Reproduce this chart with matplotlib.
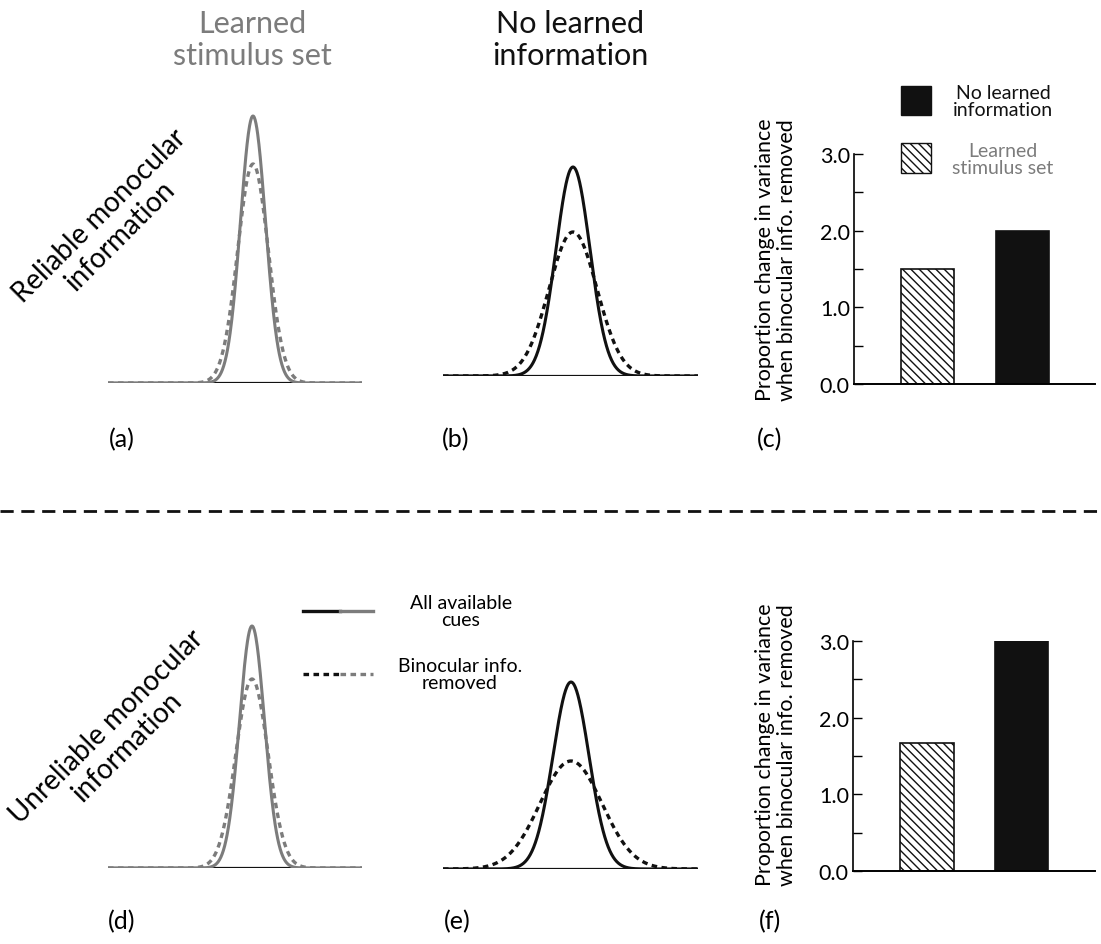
import numpy as np
import matplotlib.pyplot as plt
from matplotlib.lines import Line2D
from matplotlib.patches import Rectangle

plt.rcParams['font.family'] = ['Lato', 'DejaVu Sans']
plt.rcParams['lines.scale_dashes'] = False
plt.rcParams['hatch.linewidth'] = 1.0

# variance change when binocular info removed
bar_groups = ['Learned stimulus set', 'No learned information']
reliable_change = [1.5, 2.0]
unreliable_change = [1.67, 3.0]
yticks = [0.0, 1.0, 2.0, 3.0]

# schematic distributions (a), (b), (d), (e): peak heights and spreads
curve_panels = ['(a)', '(b)', '(d)', '(e)']
solid_peak = [2.67, 2.09, 2.42, 1.87]
dashed_peak = [2.19, 1.44, 1.89, 1.08]
solid_sd = [1.25, 1.7, 1.25, 1.8]
dashed_sd = [1.53, 2.4, 1.61, 3.1]

GRAY = '#7c7c7c'
BLACK = '#111111'
W, H = 1101, 945

fig = plt.figure(figsize=(W / 100, H / 100), dpi=100)


def box(x0, y_bottom, x1, y_top):
    return [x0 / W, 1 - y_bottom / H, (x1 - x0) / W, (y_bottom - y_top) / H]


def ftext(x, y, s, **kw):
    fig.text(x / W, 1 - y / H, s, **kw)


# ---- gaussian panels ----
# (left px, right px, baseline px, peak x px)
curve_boxes = [(108, 362, 384, 253), (443, 698, 377, 573),
               (108, 362, 869, 252), (443, 698, 870, 571)]
curve_colors = [GRAY, BLACK, GRAY, BLACK]

for i, (x0, x1, yb, xc) in enumerate(curve_boxes):
    ax = fig.add_axes(box(x0, yb, x1, yb - 300))
    lo, hi = (x0 - xc) / 10, (x1 - xc) / 10
    x = np.linspace(lo, hi, 600)
    solid = solid_peak[i] * np.exp(-0.5 * (x / solid_sd[i]) ** 2)
    dashed = dashed_peak[i] * np.exp(-0.5 * (x / dashed_sd[i]) ** 2)
    ax.plot(x, dashed, color=curve_colors[i], lw=2.4, dashes=(4, 3.2), zorder=3)
    ax.plot(x, solid, color=curve_colors[i], lw=2.2, zorder=4)
    ax.axhline(0, color=BLACK, lw=1.6, zorder=2)
    ax.set_xlim(lo, hi)
    ax.set_ylim(0, 3)
    ax.axis('off')

# ---- bar panels ----
bar_boxes = [(854, 1095, 385, 155), (853, 1095, 872, 642)]
ylabel_y = [260, 745]
for (x0, x1, yb, yt), vals, ly in zip(bar_boxes, [reliable_change, unreliable_change], ylabel_y):
    ax = fig.add_axes(box(x0, yb, x1, yt))
    ax.bar([0], [vals[0]], width=0.56, color='white', edgecolor=BLACK,
           hatch='\\\\\\\\', lw=1.2)
    ax.bar([1], [vals[1]], width=0.56, color=BLACK, edgecolor=BLACK, lw=1.2)
    ax.set_xlim(-0.78, 1.77)
    ax.set_ylim(0, 3)
    ax.set_xticks([])
    ax.set_yticks(yticks)
    ax.set_yticklabels(['%.1f' % v for v in yticks])
    ax.set_yticks([0.5, 1.5, 2.5], minor=True)
    ax.tick_params(axis='y', which='both', direction='in', length=6.5,
                   width=1.0, pad=3, labelsize=15.5)
    for s in ['top', 'right']:
        ax.spines[s].set_visible(False)
    ax.spines['left'].set_linewidth(1.2)
    ax.spines['bottom'].set_linewidth(1.4)
    ftext(776, ly, 'Proportion change in variance\nwhen binocular info. removed',
          fontsize=15.5, rotation=90, ha='center', va='center', linespacing=1.1)

# bar legend (top right)
fig.patches.append(Rectangle((901 / W, 1 - 116 / H), 30 / W, 29 / H,
                             transform=fig.transFigure, facecolor=BLACK,
                             edgecolor=BLACK, lw=1))
fig.patches.append(Rectangle((901 / W, 1 - 174 / H), 30 / W, 30 / H,
                             transform=fig.transFigure, facecolor='white',
                             edgecolor=BLACK, lw=1, hatch='\\\\\\\\'))
ftext(1003, 102, 'No learned\ninformation', fontsize=14, ha='center',
      va='center', linespacing=1.0, color=BLACK)
ftext(1003, 160, 'Learned\nstimulus set', fontsize=14, ha='center',
      va='center', linespacing=1.0, color=GRAY)

# line legend (bottom middle)
for y, dash in [(612, None), (675, (4, 3.2))]:
    for xa, xb, c in [(303, 340, BLACK), (340, 373, GRAY)]:
        ln = Line2D([xa / W, xb / W], [1 - y / H, 1 - y / H], color=c, lw=2.4,
                    transform=fig.transFigure)
        if dash:
            ln.set_dashes(dash)
        fig.add_artist(ln)
ftext(461, 612, 'All available\ncues', fontsize=14, ha='center', va='center',
      linespacing=1.05)
ftext(460, 675, 'Binocular info.\nremoved', fontsize=14, ha='center',
      va='center', linespacing=1.05)

# column headings
ftext(252, 40, 'Learned\nstimulus set', fontsize=22, ha='center', va='center',
      color=GRAY, linespacing=1.15)
ftext(570, 40, 'No learned\ninformation', fontsize=22, ha='center', va='center',
      color=BLACK, linespacing=1.15)

# row labels
ftext(110, 226, 'Reliable monocular\ninformation', fontsize=20, rotation=45,
      rotation_mode='anchor', ha='center', va='center', linespacing=1.1)
ftext(117, 737, 'Unreliable monocular\ninformation', fontsize=20, rotation=45,
      rotation_mode='anchor', ha='center', va='center', linespacing=1.1)

# panel letters
for lab, x, y in [('(a)', 122, 440), ('(b)', 456, 440), ('(c)', 770, 440),
                  ('(d)', 122, 922), ('(e)', 457, 922), ('(f)', 770, 922)]:
    ftext(x, y, lab, fontsize=18, ha='center', va='center')

# separator
sep = Line2D([0, 1], [1 - 512 / H, 1 - 512 / H], color=BLACK, lw=2,
             transform=fig.transFigure)
sep.set_dashes((9.5, 5.5))
fig.add_artist(sep)

fig.savefig('out.png', dpi=100)
